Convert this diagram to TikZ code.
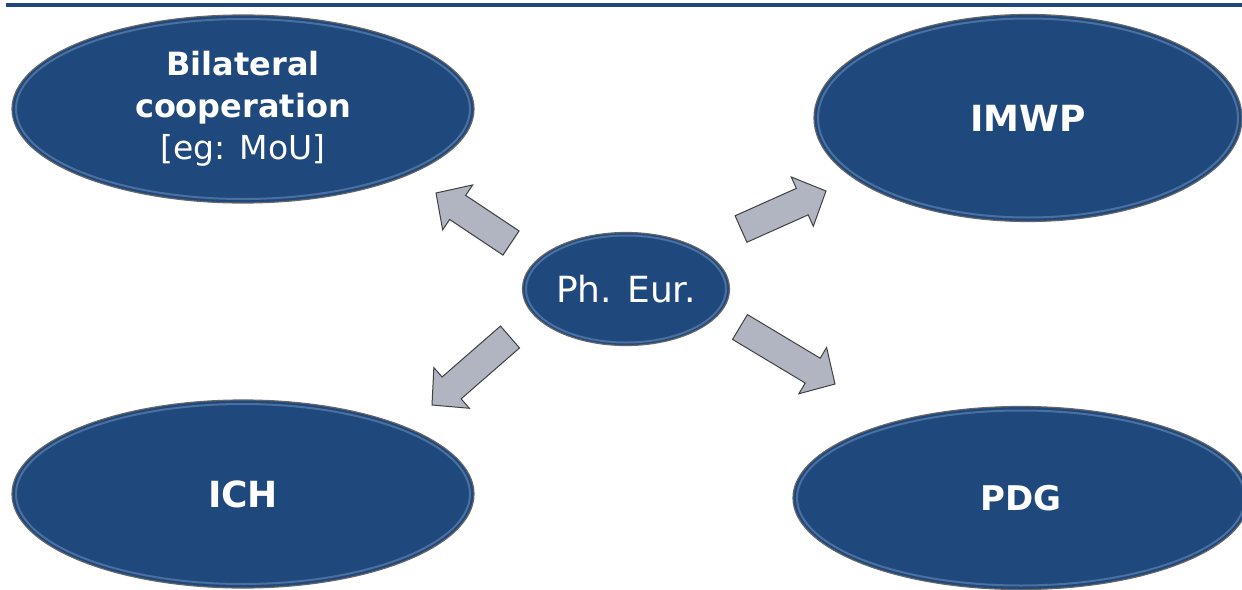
\documentclass[tikz,border=0pt]{standalone}
\usepackage{fontspec}
\setmainfont{DejaVu Sans}
\usetikzlibrary{calc,shapes.geometric}
\definecolor{navy}{RGB}{31,73,125}
\definecolor{rim}{RGB}{75,112,160}
\definecolor{arrowgray}{RGB}{176,181,193}
\newcommand\blockarrow[2]{%
  \path ($(#2)!26pt!(#1)$) coordinate (hb);
  \draw[barrow] ($(#1)!14.5pt!90:(#2)$) -- ($(hb)!14.5pt!90:(#2)$) -- ($(hb)!27pt!90:(#2)$)
    -- (#2) -- ($(hb)!27pt!-90:(#2)$) -- ($(hb)!14.5pt!-90:(#2)$) -- ($(#1)!14.5pt!-90:(#2)$) -- cycle;
}
\newcommand\rimring[3]{%
  \draw[rim, line width=2pt] (#1.center) ellipse [x radius=#2pt, y radius=#3pt];
}
\begin{document}
\begin{tikzpicture}[x=1pt,y=-1pt,
  oval/.style={ellipse, fill=navy, draw=black!60, line width=1.2pt, text=white, align=center, inner sep=0pt},
  bigfont/.style={font=\fontsize{36}{41}\selectfont},
  barrow/.style={fill=arrowgray, draw=black!75, line width=1pt, line join=miter}]
\path[use as bounding box] (0,0) rectangle (1242,589);
\clip (0,0) rectangle (1242,589);
\fill[white] (0,0) rectangle (1242,589);
\draw[navy, line width=4pt] (6,5) -- (1242,5);

\node[oval, font=\fontsize{32}{42}\selectfont, minimum width=462pt, minimum height=188pt] (bil) at (243,109)
  {\textbf{Bilateral}\\\textbf{cooperation}\\{\fontsize{33}{42}\selectfont [eg: MoU]}};
\node[oval, bigfont, minimum width=428pt, minimum height=207pt] (imwp) at (1028,118) {\textbf{IMWP}};
\node[oval, font=\fontsize{36}{44}\selectfont, minimum width=207pt, minimum height=113pt] (phe) at (626,289) {Ph. Eur.};
\node[oval, bigfont, minimum width=462pt, minimum height=188pt] (ich) at (243,494) {\textbf{ICH}};
\node[oval, font=\fontsize{34}{40}\selectfont, minimum width=456pt, minimum height=183pt] (pdg) at (1021,498) {\textbf{PDG}};

\rimring{bil}{227}{90}
\rimring{imwp}{210}{99.5}
\rimring{phe}{100}{53.5}
\rimring{ich}{227}{90}
\rimring{pdg}{224}{87.5}

\coordinate (t1) at (511,243); \coordinate (p1) at (436,193);
\coordinate (t2) at (741,229); \coordinate (p2) at (826,191);
\coordinate (t3) at (510,337); \coordinate (p3) at (432,405);
\coordinate (t4) at (740,327); \coordinate (p4) at (835,384);
\blockarrow{t1}{p1}
\blockarrow{t2}{p2}
\blockarrow{t3}{p3}
\blockarrow{t4}{p4}
\end{tikzpicture}
\end{document}
